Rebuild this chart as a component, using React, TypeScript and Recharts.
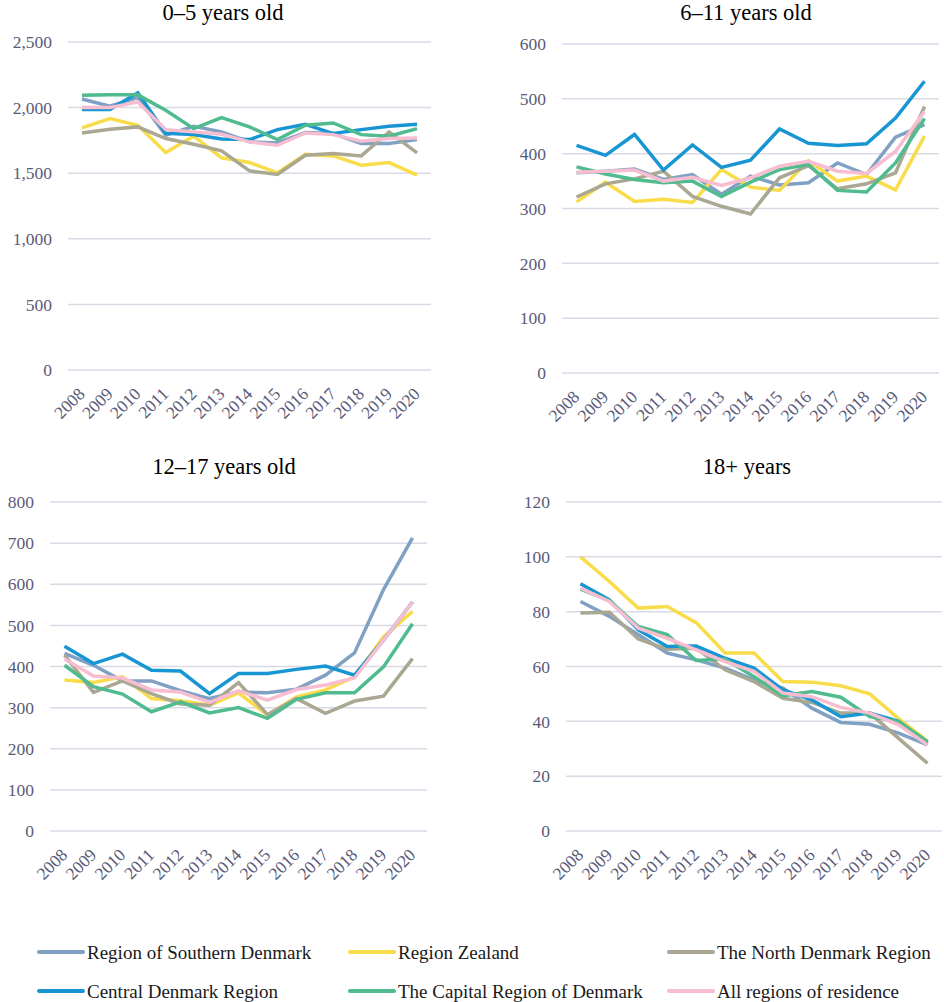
import React from 'react';
import { LineChart, Line, XAxis, YAxis, CartesianGrid } from 'recharts';

const years = ['2008', '2009', '2010', '2011', '2012', '2013', '2014', '2015', '2016', '2017', '2018', '2019', '2020'];

const seriesNames = [
  'Region of Southern Denmark',
  'Region Zealand',
  'The North Denmark Region',
  'Central Denmark Region',
  'The Capital Region of Denmark',
  'All regions of residence',
];
const seriesKeys = ['southern', 'zealand', 'north', 'central', 'capital', 'all'];
const seriesColors = ['#80a0c4', '#f9dc4a', '#aaa893', '#1796d3', '#4fbb8e', '#f7bdd0'];

// 0–5 years old
const age0to5Southern = [2066, 2010, 2076, 1790, 1858, 1815, 1739, 1731, 1810, 1802, 1726, 1726, 1756];
const age0to5Zealand = [1845, 1916, 1865, 1657, 1782, 1617, 1581, 1503, 1645, 1632, 1561, 1581, 1485];
const age0to5North = [1807, 1835, 1853, 1764, 1721, 1670, 1518, 1490, 1637, 1650, 1632, 1815, 1655];
const age0to5Central = [1985, 1985, 2112, 1805, 1795, 1760, 1756, 1832, 1873, 1802, 1832, 1858, 1873];
const age0to5Capital = [2094, 2097, 2097, 1980, 1840, 1924, 1853, 1756, 1865, 1883, 1794, 1782, 1840];
const age0to5All = [2000, 2000, 2043, 1832, 1815, 1797, 1739, 1713, 1807, 1794, 1744, 1764, 1769];

// 6–11 years old
const age6to11Southern = [365, 368, 372, 353, 362, 326, 359, 343, 347, 383, 362, 430, 453];
const age6to11Zealand = [312, 348, 313, 317, 311, 371, 339, 333, 387, 350, 359, 334, 432];
const age6to11North = [321, 345, 354, 368, 322, 304, 290, 356, 378, 336, 345, 365, 486];
const age6to11Central = [415, 397, 435, 370, 416, 375, 388, 445, 419, 415, 418, 465, 532];
const age6to11Capital = [376, 363, 353, 347, 350, 322, 348, 371, 380, 333, 330, 383, 464];
const age6to11All = [366, 368, 370, 350, 357, 342, 356, 377, 386, 368, 364, 404, 477];

// 12–17 years old
const age12to17Southern = [432, 403, 365, 365, 341, 322, 338, 336, 345, 379, 433, 587, 713];
const age12to17Zealand = [367, 361, 375, 322, 317, 306, 336, 282, 326, 343, 375, 472, 534];
const age12to17North = [428, 337, 365, 334, 309, 306, 361, 283, 322, 286, 316, 328, 419];
const age12to17Central = [449, 407, 430, 391, 389, 334, 383, 383, 393, 401, 379, 464, 557];
const age12to17Capital = [403, 351, 333, 290, 314, 287, 300, 274, 320, 336, 336, 399, 504];
const age12to17All = [418, 377, 372, 343, 338, 313, 341, 318, 344, 355, 372, 464, 557];

// 18+ years
const age18plusSouthern = [83.7, 78.3, 71.6, 64.9, 62.4, 59.4, 55.1, 52.1, 44.8, 39.6, 38.9, 35.7, 31.4];
const age18plusZealand = [100, 91, 81.3, 81.9, 76, 64.9, 64.9, 54.5, 54.3, 53, 50, 41, 32.8];
const age18plusNorth = [79.5, 79.8, 70, 66.3, 66.7, 58.8, 54.5, 48.4, 46.9, 43, 43, 33.8, 24.7];
const age18plusCentral = [90.2, 84.3, 73.4, 67.3, 67.5, 63, 59.4, 51.5, 47.8, 41.7, 43, 40, 32];
const age18plusCapital = [88.2, 84, 74.6, 71.6, 62.2, 62.7, 56.3, 49.3, 50.9, 48.8, 41.7, 39.9, 32.6];
const age18plusAll = [88.6, 83.7, 74, 70.3, 66.1, 61.8, 58.2, 50.3, 49, 45.1, 43, 38.7, 31.4];

const ticks0to5 = [0, 500, 1000, 1500, 2000, 2500];
const ticks6to11 = [0, 100, 200, 300, 400, 500, 600];
const ticks12to17 = [0, 100, 200, 300, 400, 500, 600, 700, 800];
const ticks18plus = [0, 20, 40, 60, 80, 100, 120];

const buildRows = (cols: number[][]) =>
  years.map((year, i) => {
    const row: Record<string, string | number> = { year };
    seriesKeys.forEach((k, j) => {
      row[k] = cols[j][i];
    });
    return row;
  });

const data0to5 = buildRows([age0to5Southern, age0to5Zealand, age0to5North, age0to5Central, age0to5Capital, age0to5All]);
const data6to11 = buildRows([age6to11Southern, age6to11Zealand, age6to11North, age6to11Central, age6to11Capital, age6to11All]);
const data12to17 = buildRows([age12to17Southern, age12to17Zealand, age12to17North, age12to17Central, age12to17Capital, age12to17All]);
const data18plus = buildRows([age18plusSouthern, age18plusZealand, age18plusNorth, age18plusCentral, age18plusCapital, age18plusAll]);

const FONT = "'Liberation Serif', 'Times New Roman', Times, 'DejaVu Serif', serif";
const TICK_COLOR = '#5a5a78';

const YearTick = (props: any) => {
  const { x, y, payload } = props;
  const ax = x + 4;
  const ay = y + 25;
  return (
    <text
      x={ax}
      y={ay}
      transform={`rotate(-45, ${ax}, ${ay})`}
      textAnchor="end"
      fill={TICK_COLOR}
      style={{ fontSize: 17.5, fontFamily: FONT }}
    >
      {payload.value}
    </text>
  );
};

type PanelProps = {
  data: Record<string, string | number>[];
  ticks: number[];
  plotLeft: number;
  plotRight: number;
  plotTop: number;
  plotBottom: number;
  thousands?: boolean;
};

const Panel = ({ data, ticks, plotLeft, plotRight, plotTop, plotBottom, thousands }: PanelProps) => {
  const yW = 68;
  const mt = 10;
  const xH = 70;
  const plotW = plotRight - plotLeft;
  const half = plotW / 13 / 2;
  const width = plotW + yW + 2;
  const height = plotBottom - plotTop + mt + xH;
  return (
    <div style={{ position: 'absolute', left: plotLeft - yW, top: plotTop - mt, width, height }}>
      <LineChart width={width} height={height} data={data} margin={{ top: mt, right: 2, bottom: 0, left: 0 }}>
        <CartesianGrid vertical={false} stroke="#dadae7" strokeWidth={1.5} />
        <XAxis
          dataKey="year"
          interval={0}
          axisLine={false}
          tickLine={false}
          tickSize={0}
          tickMargin={0}
          height={xH}
          padding={{ left: half, right: half }}
          tick={<YearTick />}
        />
        <YAxis
          width={yW}
          domain={[ticks[0], ticks[ticks.length - 1]]}
          ticks={ticks}
          interval={0}
          axisLine={false}
          tickLine={false}
          tickSize={0}
          tickMargin={16}
          tick={{ fill: TICK_COLOR, fontSize: 17.5, style: { fontFamily: FONT } }}
          tickFormatter={(v: number) => (thousands ? v.toLocaleString('en-US') : String(v))}
        />
        {seriesKeys.map((k, i) => (
          <Line
            key={k}
            type="linear"
            dataKey={k}
            name={seriesNames[i]}
            stroke={seriesColors[i]}
            strokeWidth={3.5}
            dot={false}
            activeDot={false}
            isAnimationActive={false}
          />
        ))}
      </LineChart>
    </div>
  );
};

const titles = [
  { text: '0–5 years old', x: 223, y: 20 },
  { text: '6–11 years old', x: 746, y: 20 },
  { text: '12–17 years old', x: 224, y: 474 },
  { text: '18+ years', x: 747, y: 474 },
];

const legendCols = [39, 350, 669];
const legendRows = [952, 991];

export default function App() {
  return (
    <div style={{ position: 'absolute', left: 0, top: 0, width: 944, height: 1002, background: '#fff', overflow: 'hidden', fontFamily: FONT }}>
      <Panel data={data0to5} ticks={ticks0to5} plotLeft={68} plotRight={431} plotTop={42} plotBottom={370} thousands />
      <Panel data={data6to11} ticks={ticks6to11} plotLeft={562} plotRight={939} plotTop={44} plotBottom={373} />
      <Panel data={data12to17} ticks={ticks12to17} plotLeft={50} plotRight={427} plotTop={502} plotBottom={831} />
      <Panel data={data18plus} ticks={ticks18plus} plotLeft={566} plotRight={942} plotTop={502} plotBottom={831} />
      <svg width={944} height={1002} style={{ position: 'absolute', left: 0, top: 0, pointerEvents: 'none', fontFamily: FONT }}>
        {titles.map((t) => (
          <text key={t.text} x={t.x} y={t.y} textAnchor="middle" fill="#000" style={{ fontSize: 22.5, fontFamily: FONT }}>
            {t.text}
          </text>
        ))}
        {seriesNames.map((name, i) => {
          const col = i % 3;
          const row = Math.floor(i / 3);
          const x = legendCols[col];
          const y = legendRows[row];
          return (
            <g key={name}>
              <line x1={x} x2={x + 44} y1={y} y2={y} stroke={seriesColors[i]} strokeWidth={4} strokeLinecap="round" />
              <text x={x + 48} y={y + 6.5} fill="#1a1a1a" style={{ fontSize: 19, fontFamily: FONT }}>
                {name}
              </text>
            </g>
          );
        })}
      </svg>
    </div>
  );
}
